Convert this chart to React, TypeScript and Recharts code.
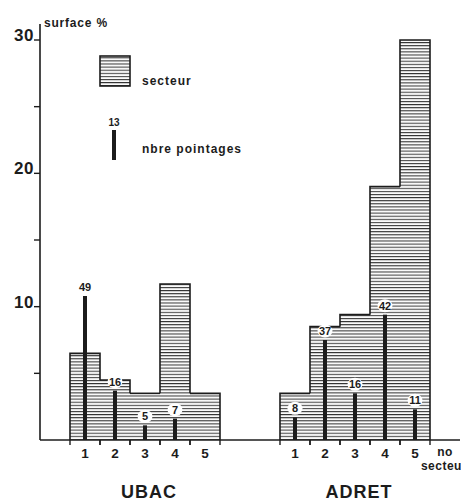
import { ComposedChart, Bar, XAxis, YAxis, Legend, LabelList } from 'recharts';

// surface % par secteur (barres hachurées) et nombre de pointages (traits noirs)
const sectors = ['1', '2', '3', '4', '5'];
const ubacSurface = [6.5, 4.5, 3.5, 11.7, 3.5];
const ubacPointages = [49, 16, 5, 7, 0];
const ubacPointageHeight = [10.8, 3.7, 1.1, 1.6, 0];
const adretSurface = [3.5, 8.5, 9.4, 19.0, 30];
const adretPointages = [8, 37, 16, 42, 11];
const adretPointageHeight = [1.7, 7.5, 3.5, 9.4, 2.3];
const yTicks = [5, 10, 15, 20, 25, 30];
const yLabels = [10, 20, 30];
const groups = ['UBAC', 'ADRET'];

const INK = '#1c1c1c';
const FONT = '"Liberation Sans", Arial, sans-serif';

type Slot = {
  key: string;
  label: string;
  group?: string;
  surface?: number;
  height?: number;
  count?: number;
};

const groupSlots = (group: string, surface: number[], height: number[], count: number[]): Slot[] =>
  sectors.map((s, i) => ({
    key: group + s,
    label: s,
    group,
    surface: surface[i],
    height: height[i],
    count: count[i],
  }));

const slots: Slot[] = [
  { key: 'g0', label: '' },
  ...groupSlots(groups[0], ubacSurface, ubacPointageHeight, ubacPointages),
  { key: 'g1', label: '' },
  { key: 'g2', label: '' },
  ...groupSlots(groups[1], adretSurface, adretPointageHeight, adretPointages),
  { key: 'end', label: 'no secteur' },
];

// barre de secteur : fond hachuré + contour en escalier seulement
const SectorShape = (props: any) => {
  const { x, y, width, height, payload } = props;
  const index = slots.findIndex((s) => s.key === payload?.key);
  const s = slots[index];
  if (!s || s.surface == null || !height) return null;
  const k = height / s.surface;
  const bottom = y + height;
  const left = slots[index - 1]?.surface ?? 0;
  const right = slots[index + 1]?.surface ?? 0;
  const leftEnd = bottom - Math.min(left, s.surface) * k;
  const rightEnd = bottom - Math.min(right, s.surface) * k;
  return (
    <g>
      <rect x={x} y={y} width={width} height={height} fill="url(#hatch)" />
      <path
        d={`M${x},${leftEnd} L${x},${y} L${x + width},${y} L${x + width},${rightEnd}`}
        fill="none"
        stroke={INK}
        strokeWidth={1.6}
      />
    </g>
  );
};

const PointageLabel = (props: any) => {
  const { x, y, width, value } = props;
  if (value == null) return null;
  const cx = x + width / 2;
  const cy = y - 9;
  return (
    <g>
      <ellipse cx={cx} cy={cy} rx={7.5} ry={6.5} fill="#ffffff" />
      <text
        x={cx}
        y={cy + 4}
        textAnchor="middle"
        fontFamily={FONT}
        fontWeight="bold"
        fontSize={11}
        fill={INK}
      >
        {value}
      </text>
    </g>
  );
};

// étiquettes de l'axe x + petites graduations aux limites des secteurs
const SectorTick = (props: any) => {
  const { x, y, payload, width } = props;
  const s = slots[payload.index];
  if (!s) return null;
  const band = width / slots.length;
  if (s.key === 'end') {
    return (
      <g fontFamily={FONT} fontWeight="bold" fontSize={12} fill={INK} letterSpacing={0.5}>
        <text x={x} y={y + 16} textAnchor="middle">no</text>
        <text x={x - 1} y={y + 30} textAnchor="middle">secteur</text>
      </g>
    );
  }
  if (!s.label) return null;
  return (
    <g fontFamily={FONT} fontWeight="bold" fill={INK}>
      <line x1={x - band / 2} y1={y} x2={x - band / 2} y2={y + 5} stroke={INK} strokeWidth={1.4} />
      <line x1={x + band / 2} y1={y} x2={x + band / 2} y2={y + 5} stroke={INK} strokeWidth={1.4} />
      <text x={x} y={y + 18} textAnchor="middle" fontSize={13.5}>
        {s.label}
      </text>
      {s.label === '3' && (
        <text x={x + 4} y={y + 58} textAnchor="middle" fontSize={18} letterSpacing={1}>
          {s.group}
        </text>
      )}
    </g>
  );
};

const SurfaceTick = (props: any) => {
  const { x, y, payload } = props;
  if (!yLabels.includes(payload.value)) return <g />;
  return (
    <text
      x={x + 2}
      y={y + 1}
      textAnchor="end"
      fontFamily={FONT}
      fontWeight="bold"
      fontSize={17}
      letterSpacing={0.5}
      fill={INK}
    >
      {payload.value}
    </text>
  );
};

const SurfaceTitle = (props: any) => {
  const { viewBox } = props;
  return (
    <text
      x={viewBox.x + viewBox.width + 4}
      y={viewBox.y + 3}
      fontFamily={FONT}
      fontWeight="bold"
      fontSize={12}
      letterSpacing={0.8}
      fill={INK}
    >
      surface %
    </text>
  );
};

const LegendBox = () => (
  <svg width={180} height={120} style={{ display: 'block' }}>
    <defs>
      <pattern id="hatchLegend" width={4} height={3.1} patternUnits="userSpaceOnUse">
        <rect width={4} height={3.1} fill="#fafafa" />
        <line x1={0} y1={0.5} x2={4} y2={0.5} stroke="#333333" strokeWidth={1.05} />
      </pattern>
    </defs>
    <rect x={1} y={8} width={30} height={30} fill="url(#hatchLegend)" stroke={INK} strokeWidth={1.6} />
    <g fontFamily={FONT} fontWeight="bold" fill={INK}>
      <text x={43} y={37} fontSize={12} letterSpacing={1}>secteur</text>
      <text x={15} y={78} fontSize={10} textAnchor="middle">13</text>
      <text x={43} y={105} fontSize={12} letterSpacing={1}>nbre pointages</text>
    </g>
    <rect x={13} y={82} width={4} height={30} fill={INK} />
  </svg>
);

export default function App() {
  return (
    <div style={{ width: 461, height: 494, background: '#ffffff' }}>
      <ComposedChart
        width={461}
        height={494}
        data={slots}
        margin={{ top: 16, right: 9, bottom: 0, left: 0 }}
        barCategoryGap={0}
        barGap={0}
      >
        <defs>
          <pattern id="hatch" width={4} height={3.1} patternUnits="userSpaceOnUse">
            <rect width={4} height={3.1} fill="#fafafa" />
            <line x1={0} y1={0.5} x2={4} y2={0.5} stroke="#333333" strokeWidth={1.05} />
          </pattern>
        </defs>
        <XAxis
          xAxisId="a_sector"
          dataKey="key"
          type="category"
          interval={0}
          tickLine={false}
          tickSize={0}
          tickMargin={0}
          axisLine={{ stroke: INK, strokeWidth: 1.6 }}
          tick={<SectorTick />}
          height={62}
        />
        <XAxis xAxisId="b_pointage" dataKey="key" type="category" hide height={0} />
        <YAxis
          domain={[0, 31.2]}
          ticks={yTicks}
          interval={0}
          width={32}
          tickSize={6}
          tickMargin={2}
          tickLine={{ stroke: INK, strokeWidth: 1.4 }}
          axisLine={{ stroke: INK, strokeWidth: 1.6 }}
          tick={<SurfaceTick />}
          allowDataOverflow
          label={<SurfaceTitle />}
        />
        <Legend
          layout="horizontal"
          verticalAlign="middle"
          align="center"
          content={<LegendBox />}
          wrapperStyle={{ position: 'absolute', left: 91, top: 40, width: 180, height: 120 }}
        />
        <Bar
          xAxisId="a_sector"
          dataKey="surface"
          shape={<SectorShape />}
          isAnimationActive={false}
        />
        <Bar
          xAxisId="b_pointage"
          dataKey="height"
          barSize={4}
          fill={INK}
          isAnimationActive={false}
        >
          <LabelList dataKey="count" content={<PointageLabel />} />
        </Bar>
      </ComposedChart>
    </div>
  );
}
